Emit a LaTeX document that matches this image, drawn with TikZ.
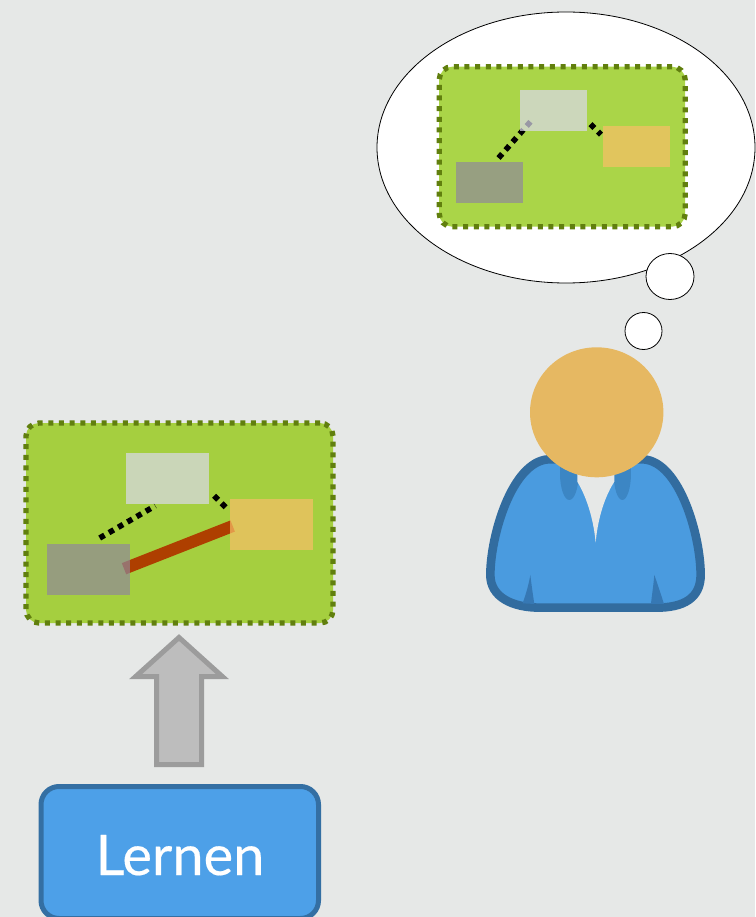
\documentclass[tikz,border=0pt]{standalone}
\usepackage{fontspec}
\setmainfont{Lato}
\newfontfamily\labelfont[FakeBold=0.35]{Lato}
\usetikzlibrary{shapes.geometric}
\definecolor{bgc}{HTML}{E6E8E7}
\definecolor{greenA}{HTML}{A5CF3F}
\definecolor{greenB}{HTML}{AAD548}
\definecolor{oliveC}{HTML}{617F0E}
\definecolor{grayR}{RGB}{144,137,154}
\definecolor{lightR}{RGB}{219,217,236}
\definecolor{yellowR}{RGB}{249,191,103}
\definecolor{redL}{HTML}{AE3F00}
\definecolor{blueF}{HTML}{4DA0E8}
\definecolor{blueS}{HTML}{346FA3}
\definecolor{bodyF}{HTML}{4A9BDF}
\definecolor{bodyS}{HTML}{326C9F}
\definecolor{collarC}{HTML}{3C86C4}
\definecolor{cuffC}{HTML}{3678B4}
\definecolor{headC}{HTML}{E6B862}
\definecolor{arrF}{HTML}{BDBDBD}
\definecolor{arrS}{HTML}{9C9C9C}
\pgfdeclarelayer{boxes}
\pgfdeclarelayer{links}
\pgfsetlayers{boxes,links,main}
\tikzset{
  x=1pt,y=-1pt,
  greenbox/.style={rectangle,rounded corners=13pt,draw=oliveC,line width=5.3pt,
    dash pattern=on 5pt off 5.67pt,inner sep=0pt,outer sep=0pt},
  conceptA/.style={rectangle,inner sep=0pt,outer sep=0pt,fill opacity=.7,minimum width=83pt,minimum height=51pt},
  conceptB/.style={rectangle,inner sep=0pt,outer sep=0pt,fill opacity=.7,minimum width=67pt,minimum height=41pt},
  dotlink/.style={draw=black,line width=5.6pt,dash pattern=on 5.6pt off 5.07pt},
  cloud/.style={ellipse,draw=black,line width=.8pt,fill=white,inner sep=0pt,outer sep=0pt},
}
\begin{document}
\begin{tikzpicture}
\useasboundingbox (0,0) rectangle (755,917);

\begin{pgfonlayer}{boxes}
\fill[bgc] (0,0) rectangle (755,917);
% thought bubble
\node[cloud,minimum width=378pt,minimum height=271pt] (bubble) at (566,147.5) {};
\node[cloud,minimum width=48pt,minimum height=46pt] (puffA) at (670,276.5) {};
\node[cloud,minimum width=37pt,minimum height=37pt] (puffB) at (643.5,331) {};
% mental model
\node[greenbox,fill=greenB,minimum width=246pt,minimum height=160pt] (modelB) at (562.2,146.7) {};
\node[greenbox,fill=greenA,minimum width=307pt,minimum height=200pt] (modelA) at (179.5,523) {};
\end{pgfonlayer}
\node[conceptB,fill=lightR]  (lightB)  at (553.5,110.5) {};
\node[conceptB,fill=yellowR] (yellowB) at (636.5,146.5) {};
\node[conceptB,fill=grayR]   (grayB)   at (489.5,182.5) {};
\node[conceptA,fill=lightR]  (lightA)  at (167.5,478.5) {};
\node[conceptA,fill=yellowR] (yellowA) at (271.5,524.5) {};
\node[conceptA,fill=grayR]   (grayA)   at (88.5,569.5) {};
\begin{pgfonlayer}{links}
\draw[dotlink] ([shift={(9,-24.5)}]grayB.center) -- ([shift={(-23,11.2)}]lightB.center);
\draw[dotlink] ([shift={(36.9,13.6)}]lightB.center) -- ([shift={(-35.5,-11.8)}]yellowB.center);
\draw[dotlink] ([shift={(11.2,-31.5)}]grayA.center) -- ([shift={(-12.2,27.3)}]lightA.center);
\draw[dotlink] ([shift={(46.6,17.3)}]lightA.center) -- ([shift={(-45.6,-16.9)}]yellowA.center);
\draw[redL,line width=12pt] ([shift={(35.5,-0.8)}]grayA.center) -- ([shift={(-38.8,1.5)}]yellowA.center);
\end{pgfonlayer}

% arrow
\path[fill=arrF,draw=arrS,line width=5pt,miter limit=10]
  (179,637.5) -- (222.3,676.5) -- (201.5,676.5) -- (201.5,764.5) -- (156.5,764.5)
  -- (156.5,676.5) -- (135.7,676.5) -- cycle;

% Lernen box
\node[rectangle,rounded corners=18pt,draw=blueS,fill=blueF,line width=5pt,
  minimum width=277.5pt,minimum height=132pt,inner sep=0pt] (lernen) at (179.75,852.5) {};
\node[text=white,font=\labelfont\fontsize{56}{60}\selectfont,inner sep=0pt,anchor=base] (lernenText) at (180,875) {Lernen};

% person
\begin{scope}[shift={(470,340)},x=.3333pt,y=-.3333pt]
\path[fill=bodyF,draw=bodyS,line width=8.6pt,line join=round]
  (235,358) .. controls (125,365) and (61,590) .. (61,705)
  .. controls (61,770) and (125,803) .. (210,803) -- (560,803)
  .. controls (640,803) and (692,775) .. (692,705)
  .. controls (692,590) and (630,365) .. (520,358) -- cycle;
\fill[collarC] (298,400) ellipse [x radius=28,y radius=80];
\fill[collarC] (457,400) ellipse [x radius=26,y radius=80];
\fill[bgc] (322,380) -- (322,425) .. controls (355,480) and (372,550) .. (377,608)
  .. controls (382,550) and (398,480) .. (433,425) -- (433,380) -- cycle;
\fill[cuffC] (181,705) .. controls (175,740) and (165,770) .. (158,790) -- (193,792)
  .. controls (188,760) and (184,730) .. (181,705) -- cycle;
\fill[cuffC] (553,705) .. controls (550,740) and (545,770) .. (543,792) -- (582,792)
  .. controls (572,760) and (562,730) .. (553,705) -- cycle;
\end{scope}
\node[ellipse,fill=headC,minimum width=133.4pt,minimum height=130pt,inner sep=0pt] (head) at (596.7,412.3) {};
\end{tikzpicture}
\end{document}
